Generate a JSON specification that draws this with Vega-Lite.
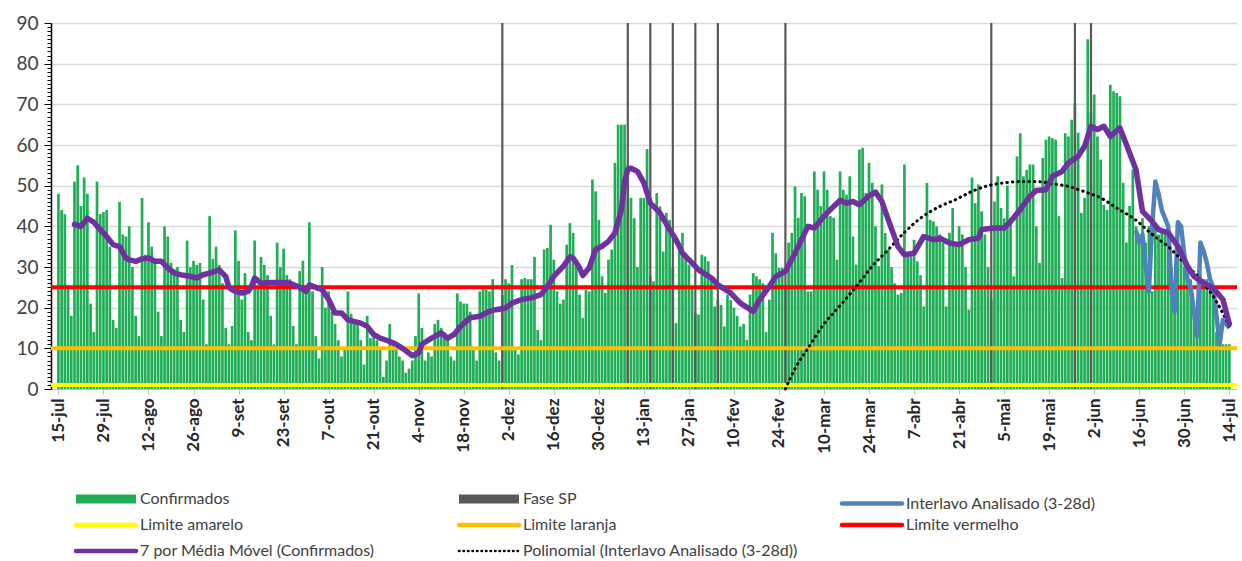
{
"$schema": "https://vega.github.io/schema/vega-lite/v6.json",
"autosize": {"type": "none"},
"width": 1186,
"height": 366,
"padding": {"left": 51, "top": 23, "right": 5, "bottom": 172},
"background": "white",
"config": {"view": {"stroke": null}, "font": "Lato"},
"datasets": {
"conf": [
{"date":"2020-07-15","v":48},{"date":"2020-07-16","v":44},{"date":"2020-07-17","v":43},{"date":"2020-07-18","v":25},{"date":"2020-07-19","v":18},{"date":"2020-07-20","v":51},{"date":"2020-07-21","v":55},{"date":"2020-07-22","v":45},{"date":"2020-07-23","v":52},{"date":"2020-07-24","v":48},{"date":"2020-07-25","v":21},{"date":"2020-07-26","v":14},{"date":"2020-07-27","v":51},{"date":"2020-07-28","v":43},{"date":"2020-07-29","v":43.5},{"date":"2020-07-30","v":44},{"date":"2020-07-31","v":35},
{"date":"2020-08-01","v":17},{"date":"2020-08-02","v":15},{"date":"2020-08-03","v":46},{"date":"2020-08-04","v":38},{"date":"2020-08-05","v":37.5},{"date":"2020-08-06","v":40},{"date":"2020-08-07","v":30},{"date":"2020-08-08","v":18},{"date":"2020-08-09","v":13},{"date":"2020-08-10","v":47},{"date":"2020-08-11","v":33},{"date":"2020-08-12","v":41},{"date":"2020-08-13","v":35},{"date":"2020-08-14","v":31},{"date":"2020-08-15","v":19},{"date":"2020-08-16","v":13},{"date":"2020-08-17","v":40},{"date":"2020-08-18","v":37.5},{"date":"2020-08-19","v":31},{"date":"2020-08-20","v":29.5},{"date":"2020-08-21","v":30},{"date":"2020-08-22","v":17},{"date":"2020-08-23","v":14},{"date":"2020-08-24","v":36.5},{"date":"2020-08-25","v":30},{"date":"2020-08-26","v":31.5},{"date":"2020-08-27","v":30.5},{"date":"2020-08-28","v":31},{"date":"2020-08-29","v":22},{"date":"2020-08-30","v":11},{"date":"2020-08-31","v":42.5},
{"date":"2020-09-01","v":32},{"date":"2020-09-02","v":35},{"date":"2020-09-03","v":30.5},{"date":"2020-09-04","v":26},{"date":"2020-09-05","v":15},{"date":"2020-09-06","v":11},{"date":"2020-09-07","v":15.5},{"date":"2020-09-08","v":39},{"date":"2020-09-09","v":31.5},{"date":"2020-09-10","v":22},{"date":"2020-09-11","v":28.5},{"date":"2020-09-12","v":14},{"date":"2020-09-13","v":12},{"date":"2020-09-14","v":36.5},{"date":"2020-09-15","v":25},{"date":"2020-09-16","v":32.5},{"date":"2020-09-17","v":30.5},{"date":"2020-09-18","v":28},{"date":"2020-09-19","v":18},{"date":"2020-09-20","v":11},{"date":"2020-09-21","v":36},{"date":"2020-09-22","v":30},{"date":"2020-09-23","v":34.5},{"date":"2020-09-24","v":28},{"date":"2020-09-25","v":27},{"date":"2020-09-26","v":15.5},{"date":"2020-09-27","v":11},{"date":"2020-09-28","v":29},{"date":"2020-09-29","v":31.5},{"date":"2020-09-30","v":24},
{"date":"2020-10-01","v":41},{"date":"2020-10-02","v":24},{"date":"2020-10-03","v":13},{"date":"2020-10-04","v":7.5},{"date":"2020-10-05","v":30},{"date":"2020-10-06","v":20},{"date":"2020-10-07","v":24},{"date":"2020-10-08","v":19},{"date":"2020-10-09","v":16},{"date":"2020-10-10","v":12},{"date":"2020-10-11","v":8},{"date":"2020-10-12","v":10},{"date":"2020-10-13","v":24},{"date":"2020-10-14","v":18.5},{"date":"2020-10-15","v":17},{"date":"2020-10-16","v":16},{"date":"2020-10-17","v":12},{"date":"2020-10-18","v":6},{"date":"2020-10-19","v":18},{"date":"2020-10-20","v":12.5},{"date":"2020-10-21","v":13},{"date":"2020-10-22","v":12},{"date":"2020-10-23","v":10},{"date":"2020-10-24","v":3},{"date":"2020-10-25","v":7},{"date":"2020-10-26","v":16},{"date":"2020-10-27","v":12},{"date":"2020-10-28","v":10},{"date":"2020-10-29","v":8},{"date":"2020-10-30","v":7},{"date":"2020-10-31","v":4},
{"date":"2020-11-01","v":5},{"date":"2020-11-02","v":7},{"date":"2020-11-03","v":13},{"date":"2020-11-04","v":23.5},{"date":"2020-11-05","v":15},{"date":"2020-11-06","v":7},{"date":"2020-11-07","v":9},{"date":"2020-11-08","v":8},{"date":"2020-11-09","v":16},{"date":"2020-11-10","v":17},{"date":"2020-11-11","v":15},{"date":"2020-11-12","v":14},{"date":"2020-11-13","v":12.5},{"date":"2020-11-14","v":8},{"date":"2020-11-15","v":7},{"date":"2020-11-16","v":23.5},{"date":"2020-11-17","v":21.5},{"date":"2020-11-18","v":21},{"date":"2020-11-19","v":21},{"date":"2020-11-20","v":19},{"date":"2020-11-21","v":10},{"date":"2020-11-22","v":7},{"date":"2020-11-23","v":24},{"date":"2020-11-24","v":25},{"date":"2020-11-25","v":24.5},{"date":"2020-11-26","v":24},{"date":"2020-11-27","v":27},{"date":"2020-11-28","v":9},{"date":"2020-11-29","v":7},{"date":"2020-11-30","v":23},
{"date":"2020-12-01","v":27},{"date":"2020-12-02","v":26},{"date":"2020-12-03","v":30.5},{"date":"2020-12-04","v":10},{"date":"2020-12-05","v":8.5},{"date":"2020-12-06","v":27},{"date":"2020-12-07","v":27.3},{"date":"2020-12-08","v":27},{"date":"2020-12-09","v":27},{"date":"2020-12-10","v":32.5},{"date":"2020-12-11","v":14.5},{"date":"2020-12-12","v":12},{"date":"2020-12-13","v":34.3},{"date":"2020-12-14","v":34.7},{"date":"2020-12-15","v":40.4},{"date":"2020-12-16","v":31.8},{"date":"2020-12-17","v":24},{"date":"2020-12-18","v":21},{"date":"2020-12-19","v":22},{"date":"2020-12-20","v":35.5},{"date":"2020-12-21","v":40.8},{"date":"2020-12-22","v":38.4},{"date":"2020-12-23","v":31.8},{"date":"2020-12-24","v":23.2},{"date":"2020-12-25","v":17.5},{"date":"2020-12-26","v":24.4},{"date":"2020-12-27","v":24},{"date":"2020-12-28","v":51.5},{"date":"2020-12-29","v":48.6},{"date":"2020-12-30","v":41.6},{"date":"2020-12-31","v":27.7},
{"date":"2021-01-01","v":23.6},{"date":"2021-01-02","v":31.8},{"date":"2021-01-03","v":34.3},{"date":"2021-01-04","v":55.6},{"date":"2021-01-05","v":65},{"date":"2021-01-06","v":65},{"date":"2021-01-07","v":65},{"date":"2021-01-08","v":55},{"date":"2021-01-09","v":47},{"date":"2021-01-10","v":42},{"date":"2021-01-11","v":30},{"date":"2021-01-12","v":47},{"date":"2021-01-13","v":47},{"date":"2021-01-14","v":59},{"date":"2021-01-15","v":27.7},{"date":"2021-01-16","v":26.5},{"date":"2021-01-17","v":48.2},{"date":"2021-01-18","v":44.9},{"date":"2021-01-19","v":33.8},{"date":"2021-01-20","v":43.3},{"date":"2021-01-21","v":41.6},{"date":"2021-01-22","v":29.8},{"date":"2021-01-23","v":16.2},{"date":"2021-01-24","v":34.3},{"date":"2021-01-25","v":38.4},{"date":"2021-01-26","v":33.4},{"date":"2021-01-27","v":30.6},{"date":"2021-01-28","v":25},{"date":"2021-01-29","v":18.7},{"date":"2021-01-30","v":18.3},{"date":"2021-01-31","v":33},
{"date":"2021-02-01","v":32.6},{"date":"2021-02-02","v":31.4},{"date":"2021-02-03","v":27.7},{"date":"2021-02-04","v":20.3},{"date":"2021-02-05","v":22},{"date":"2021-02-06","v":20.7},{"date":"2021-02-07","v":15.4},{"date":"2021-02-08","v":23.2},{"date":"2021-02-09","v":21.9},{"date":"2021-02-10","v":20},{"date":"2021-02-11","v":18},{"date":"2021-02-12","v":15.4},{"date":"2021-02-13","v":16},{"date":"2021-02-14","v":12.1},{"date":"2021-02-15","v":23.2},{"date":"2021-02-16","v":28.5},{"date":"2021-02-17","v":27.7},{"date":"2021-02-18","v":27},{"date":"2021-02-19","v":26},{"date":"2021-02-20","v":14},{"date":"2021-02-21","v":22},{"date":"2021-02-22","v":38.4},{"date":"2021-02-23","v":33.4},{"date":"2021-02-24","v":29.8},{"date":"2021-02-25","v":29.8},{"date":"2021-02-26","v":25},{"date":"2021-02-27","v":36},{"date":"2021-02-28","v":38.4},
{"date":"2021-03-01","v":49.8},{"date":"2021-03-02","v":42.1},{"date":"2021-03-03","v":48.2},{"date":"2021-03-04","v":47.4},{"date":"2021-03-05","v":24},{"date":"2021-03-06","v":24},{"date":"2021-03-07","v":53.5},{"date":"2021-03-08","v":49},{"date":"2021-03-09","v":45},{"date":"2021-03-10","v":53.5},{"date":"2021-03-11","v":49},{"date":"2021-03-12","v":42.5},{"date":"2021-03-13","v":42.1},{"date":"2021-03-14","v":31.8},{"date":"2021-03-15","v":53.5},{"date":"2021-03-16","v":49},{"date":"2021-03-17","v":47.8},{"date":"2021-03-18","v":52.3},{"date":"2021-03-19","v":37.5},{"date":"2021-03-20","v":30.6},{"date":"2021-03-21","v":58.9},{"date":"2021-03-22","v":59.3},{"date":"2021-03-23","v":48.2},{"date":"2021-03-24","v":55.6},{"date":"2021-03-25","v":50.7},{"date":"2021-03-26","v":40},{"date":"2021-03-27","v":30.2},{"date":"2021-03-28","v":50.3},{"date":"2021-03-29","v":38.4},{"date":"2021-03-30","v":34.3},{"date":"2021-03-31","v":30},
{"date":"2021-04-01","v":26},{"date":"2021-04-02","v":23.2},{"date":"2021-04-03","v":23.6},{"date":"2021-04-04","v":55.2},{"date":"2021-04-05","v":33.4},{"date":"2021-04-06","v":32.6},{"date":"2021-04-07","v":36.7},{"date":"2021-04-08","v":31.4},{"date":"2021-04-09","v":28},{"date":"2021-04-10","v":20.3},{"date":"2021-04-11","v":50.7},{"date":"2021-04-12","v":41.6},{"date":"2021-04-13","v":41.2},{"date":"2021-04-14","v":40},{"date":"2021-04-15","v":38},{"date":"2021-04-16","v":36},{"date":"2021-04-17","v":20.3},{"date":"2021-04-18","v":38.4},{"date":"2021-04-19","v":44.5},{"date":"2021-04-20","v":35.1},{"date":"2021-04-21","v":40},{"date":"2021-04-22","v":38},{"date":"2021-04-23","v":30},{"date":"2021-04-24","v":19.5},{"date":"2021-04-25","v":52},{"date":"2021-04-26","v":45.7},{"date":"2021-04-27","v":50.3},{"date":"2021-04-28","v":43.7},{"date":"2021-04-29","v":38},{"date":"2021-04-30","v":30},
{"date":"2021-05-01","v":22},{"date":"2021-05-02","v":46.1},{"date":"2021-05-03","v":52.3},{"date":"2021-05-04","v":44.5},{"date":"2021-05-05","v":42},{"date":"2021-05-06","v":50},{"date":"2021-05-07","v":42.1},{"date":"2021-05-08","v":27.7},{"date":"2021-05-09","v":57.2},{"date":"2021-05-10","v":62.9},{"date":"2021-05-11","v":52.3},{"date":"2021-05-12","v":53.9},{"date":"2021-05-13","v":55.2},{"date":"2021-05-14","v":55.2},{"date":"2021-05-15","v":40},{"date":"2021-05-16","v":31},{"date":"2021-05-17","v":56.8},{"date":"2021-05-18","v":61.3},{"date":"2021-05-19","v":62.1},{"date":"2021-05-20","v":61.7},{"date":"2021-05-21","v":61.3},{"date":"2021-05-22","v":42.5},{"date":"2021-05-23","v":27.3},{"date":"2021-05-24","v":62.9},{"date":"2021-05-25","v":62.1},{"date":"2021-05-26","v":66.2},{"date":"2021-05-27","v":70.3},{"date":"2021-05-28","v":63},{"date":"2021-05-29","v":43.3},{"date":"2021-05-30","v":47},{"date":"2021-05-31","v":86},
{"date":"2021-06-01","v":68},{"date":"2021-06-02","v":72.4},{"date":"2021-06-03","v":62.1},{"date":"2021-06-04","v":56.4},{"date":"2021-06-05","v":45.3},{"date":"2021-06-06","v":44},{"date":"2021-06-07","v":74.8},{"date":"2021-06-08","v":73.2},{"date":"2021-06-09","v":72.8},{"date":"2021-06-10","v":72},{"date":"2021-06-11","v":50.7},{"date":"2021-06-12","v":36},{"date":"2021-06-13","v":45},{"date":"2021-06-14","v":54},{"date":"2021-06-15","v":40},{"date":"2021-06-16","v":38},{"date":"2021-06-17","v":42},{"date":"2021-06-18","v":36},{"date":"2021-06-19","v":40},{"date":"2021-06-20","v":24},{"date":"2021-06-21","v":40},{"date":"2021-06-22","v":38},{"date":"2021-06-23","v":39},{"date":"2021-06-24","v":38},{"date":"2021-06-25","v":40},{"date":"2021-06-26","v":30},{"date":"2021-06-27","v":22},{"date":"2021-06-28","v":34},{"date":"2021-06-29","v":33},{"date":"2021-06-30","v":30},
{"date":"2021-07-01","v":29},{"date":"2021-07-02","v":27},{"date":"2021-07-03","v":20},{"date":"2021-07-04","v":15},{"date":"2021-07-05","v":28},{"date":"2021-07-06","v":27},{"date":"2021-07-07","v":27},{"date":"2021-07-08","v":26},{"date":"2021-07-09","v":25},{"date":"2021-07-10","v":14},{"date":"2021-07-11","v":11},{"date":"2021-07-12","v":11},{"date":"2021-07-13","v":11},{"date":"2021-07-14","v":11}
],
"ma": [
{"date":"2020-07-20","v":40.5},{"date":"2020-07-22","v":40},{"date":"2020-07-24","v":42},{"date":"2020-07-26","v":41},{"date":"2020-07-28","v":39.2},{"date":"2020-07-30","v":37.5},{"date":"2020-08-01","v":35.5},{"date":"2020-08-03","v":35},{"date":"2020-08-05","v":32.2},{"date":"2020-08-06","v":31.8},{"date":"2020-08-08","v":31.4},{"date":"2020-08-10","v":32},{"date":"2020-08-12","v":32.2},{"date":"2020-08-14","v":31.4},{"date":"2020-08-16","v":31.4},{"date":"2020-08-18","v":29.8},{"date":"2020-08-20","v":28.5},{"date":"2020-08-22","v":28.1},{"date":"2020-08-25","v":27.7},{"date":"2020-08-27","v":27.3},{"date":"2020-08-29","v":28.1},{"date":"2020-08-31","v":28.5},{"date":"2020-09-03","v":29.3},{"date":"2020-09-05","v":27.7},{"date":"2020-09-06","v":25},{"date":"2020-09-07","v":24.4},{"date":"2020-09-08","v":24},{"date":"2020-09-10","v":23.6},{"date":"2020-09-12","v":24},{"date":"2020-09-13","v":25.2},{"date":"2020-09-14","v":27.3},{"date":"2020-09-16","v":26},{"date":"2020-09-19","v":26.2},{"date":"2020-09-23","v":26.2},{"date":"2020-09-25","v":26},{"date":"2020-09-28","v":25},{"date":"2020-09-30","v":24},{"date":"2020-10-01","v":25.6},{"date":"2020-10-03","v":25},{"date":"2020-10-05","v":24.4},{"date":"2020-10-07","v":22},{"date":"2020-10-09","v":18.7},{"date":"2020-10-11","v":18.7},{"date":"2020-10-13","v":17},{"date":"2020-10-17","v":16.2},{"date":"2020-10-19","v":15.4},{"date":"2020-10-21","v":13.4},{"date":"2020-10-23","v":12.5},{"date":"2020-10-26","v":11.7},{"date":"2020-10-28","v":11},{"date":"2020-10-30","v":10},{"date":"2020-11-01","v":8.8},{"date":"2020-11-02","v":8.2},{"date":"2020-11-03","v":8.5},{"date":"2020-11-04","v":8.9},{"date":"2020-11-05","v":11},{"date":"2020-11-08","v":12.5},{"date":"2020-11-11","v":13.8},{"date":"2020-11-13","v":12.5},{"date":"2020-11-15","v":13.4},{"date":"2020-11-17","v":15.4},{"date":"2020-11-20","v":17.5},{"date":"2020-11-23","v":17.9},{"date":"2020-11-26","v":19.1},{"date":"2020-11-28","v":19.5},{"date":"2020-12-01","v":19.9},{"date":"2020-12-03","v":21.1},{"date":"2020-12-06","v":22},{"date":"2020-12-09","v":22.4},{"date":"2020-12-12","v":23.2},{"date":"2020-12-14","v":25.2},{"date":"2020-12-16","v":27.7},{"date":"2020-12-19","v":30.2},{"date":"2020-12-21","v":32.5},{"date":"2020-12-22","v":32.2},{"date":"2020-12-24","v":29.8},{"date":"2020-12-25","v":27.9},{"date":"2020-12-27","v":29.8},{"date":"2020-12-29","v":34.3},{"date":"2020-12-31","v":35.1},{"date":"2021-01-02","v":36.3},{"date":"2021-01-04","v":38.4},{"date":"2021-01-06","v":44},{"date":"2021-01-07","v":51},{"date":"2021-01-08","v":54},{"date":"2021-01-09","v":54.3},{"date":"2021-01-11","v":53.5},{"date":"2021-01-13","v":50.7},{"date":"2021-01-15","v":45.7},{"date":"2021-01-18","v":43.3},{"date":"2021-01-21","v":39.2},{"date":"2021-01-23","v":36.7},{"date":"2021-01-25","v":33.4},{"date":"2021-01-28","v":31},{"date":"2021-01-30","v":29.3},{"date":"2021-02-03","v":27.3},{"date":"2021-02-05","v":25.6},{"date":"2021-02-09","v":23.6},{"date":"2021-02-12","v":21.1},{"date":"2021-02-16","v":19.1},{"date":"2021-02-18","v":22},{"date":"2021-02-21","v":25.2},{"date":"2021-02-23","v":27.7},{"date":"2021-02-26","v":28.9},{"date":"2021-03-01","v":33.4},{"date":"2021-03-05","v":40},{"date":"2021-03-07","v":39.6},{"date":"2021-03-10","v":42.5},{"date":"2021-03-13","v":44.9},{"date":"2021-03-15","v":46.4},{"date":"2021-03-17","v":45.7},{"date":"2021-03-19","v":46.1},{"date":"2021-03-21","v":45.3},{"date":"2021-03-24","v":47.5},{"date":"2021-03-26","v":48.4},{"date":"2021-03-28","v":46.1},{"date":"2021-03-30","v":41.6},{"date":"2021-04-02","v":35},{"date":"2021-04-04","v":33},{"date":"2021-04-07","v":33.4},{"date":"2021-04-10","v":37.5},{"date":"2021-04-13","v":36.7},{"date":"2021-04-15","v":37.1},{"date":"2021-04-18","v":35.9},{"date":"2021-04-21","v":35.5},{"date":"2021-04-24","v":36.7},{"date":"2021-04-27","v":37.1},{"date":"2021-04-28","v":39.2},{"date":"2021-05-02","v":39.6},{"date":"2021-05-05","v":39.6},{"date":"2021-05-07","v":41.2},{"date":"2021-05-10","v":44.1},{"date":"2021-05-13","v":47.4},{"date":"2021-05-15","v":48.8},{"date":"2021-05-18","v":49},{"date":"2021-05-20","v":52.3},{"date":"2021-05-23","v":53.5},{"date":"2021-05-25","v":55.6},{"date":"2021-05-28","v":57.2},{"date":"2021-05-30","v":59.7},{"date":"2021-06-01","v":64.6},{"date":"2021-06-03","v":63.8},{"date":"2021-06-05","v":64.6},{"date":"2021-06-07","v":62.1},{"date":"2021-06-10","v":64.2},{"date":"2021-06-12","v":60.1},{"date":"2021-06-15","v":53.9},{"date":"2021-06-17","v":43.7},{"date":"2021-06-20","v":41.2},{"date":"2021-06-22","v":39.2},{"date":"2021-06-25","v":38.4},{"date":"2021-06-28","v":35.1},{"date":"2021-07-01","v":30.2},{"date":"2021-07-03","v":27.7},{"date":"2021-07-06","v":26.1},{"date":"2021-07-09","v":24.8},{"date":"2021-07-12","v":22},{"date":"2021-07-14","v":16}
],
"interval": [
{"date":"2021-06-15","v":39},{"date":"2021-06-16","v":36},{"date":"2021-06-17","v":38},{"date":"2021-06-18","v":30},{"date":"2021-06-19","v":24},{"date":"2021-06-20","v":40},{"date":"2021-06-21","v":51},{"date":"2021-06-22","v":48},{"date":"2021-06-23","v":44},{"date":"2021-06-24","v":42},{"date":"2021-06-25","v":40},{"date":"2021-06-26","v":25},{"date":"2021-06-27","v":19},{"date":"2021-06-28","v":41},{"date":"2021-06-29","v":40},{"date":"2021-06-30","v":33},{"date":"2021-07-01","v":27},{"date":"2021-07-02","v":25},{"date":"2021-07-03","v":19},{"date":"2021-07-04","v":13},{"date":"2021-07-05","v":36},{"date":"2021-07-06","v":34},{"date":"2021-07-07","v":31},{"date":"2021-07-08","v":27},{"date":"2021-07-09","v":25},{"date":"2021-07-10","v":18},{"date":"2021-07-11","v":11},{"date":"2021-07-12","v":17},{"date":"2021-07-13","v":16},{"date":"2021-07-14","v":15}
],
"poly": [
{"date":"2021-02-26","v":0},{"date":"2021-03-01","v":5},{"date":"2021-03-05","v":10},{"date":"2021-03-10","v":16},{"date":"2021-03-15","v":20.5},{"date":"2021-03-20","v":25.2},{"date":"2021-03-25","v":30.2},{"date":"2021-03-30","v":34.3},{"date":"2021-04-04","v":38.5},{"date":"2021-04-09","v":42},{"date":"2021-04-15","v":44.9},{"date":"2021-04-20","v":46.6},{"date":"2021-04-25","v":48.6},{"date":"2021-04-30","v":50},{"date":"2021-05-05","v":50.7},{"date":"2021-05-10","v":51},{"date":"2021-05-15","v":51},{"date":"2021-05-20","v":50.5},{"date":"2021-05-25","v":49.8},{"date":"2021-05-30","v":48.5},{"date":"2021-06-04","v":47},{"date":"2021-06-09","v":44.5},{"date":"2021-06-15","v":41.5},{"date":"2021-06-20","v":38},{"date":"2021-06-25","v":35},{"date":"2021-06-30","v":31},{"date":"2021-07-05","v":27},{"date":"2021-07-10","v":21.5},{"date":"2021-07-14","v":15.5}
],
"fase": [
{"date":"2020-11-30"},{"date":"2021-01-08"},{"date":"2021-01-15"},{"date":"2021-01-22"},{"date":"2021-01-29"},{"date":"2021-02-05"},{"date":"2021-02-26"},{"date":"2021-05-01"},{"date":"2021-05-27"},{"date":"2021-06-01"}
],
"limits": [
{"s":"Limite amarelo","y":1},{"s":"Limite laranja","y":10},{"s":"Limite vermelho","y":25}
]
},
"layer": [
{
"data": {"name": "conf"},
"mark": {"type": "bar", "size": 2.7, "color": "#1fae55"},
"encoding": {
"x": {"field": "date", "type": "temporal",
"scale": {"type": "utc", "domain": [{"year": 2020, "month": 7, "date": 14, "hours": 6, "utc": true}, {"year": 2021, "month": 7, "date": 14, "hours": 20, "utc": true}]},
"axis": {"title": null, "values": [
{"year":2020,"month":7,"date":15,"utc":true},{"year":2020,"month":7,"date":29,"utc":true},{"year":2020,"month":8,"date":12,"utc":true},{"year":2020,"month":8,"date":26,"utc":true},{"year":2020,"month":9,"date":9,"utc":true},{"year":2020,"month":9,"date":23,"utc":true},{"year":2020,"month":10,"date":7,"utc":true},{"year":2020,"month":10,"date":21,"utc":true},{"year":2020,"month":11,"date":4,"utc":true},{"year":2020,"month":11,"date":18,"utc":true},{"year":2020,"month":12,"date":2,"utc":true},{"year":2020,"month":12,"date":16,"utc":true},{"year":2020,"month":12,"date":30,"utc":true},{"year":2021,"month":1,"date":13,"utc":true},{"year":2021,"month":1,"date":27,"utc":true},{"year":2021,"month":2,"date":10,"utc":true},{"year":2021,"month":2,"date":24,"utc":true},{"year":2021,"month":3,"date":10,"utc":true},{"year":2021,"month":3,"date":24,"utc":true},{"year":2021,"month":4,"date":7,"utc":true},{"year":2021,"month":4,"date":21,"utc":true},{"year":2021,"month":5,"date":5,"utc":true},{"year":2021,"month":5,"date":19,"utc":true},{"year":2021,"month":6,"date":2,"utc":true},{"year":2021,"month":6,"date":16,"utc":true},{"year":2021,"month":6,"date":30,"utc":true},{"year":2021,"month":7,"date":14,"utc":true}],
"labelExpr": "utcdate(datum.value) + '-' + ['jan','fev','mar','abr','mai','jun','jul','ago','set','out','nov','dez'][utcmonth(datum.value)]",
"labelAngle": 270, "labelFontSize": 17, "labelFontWeight": "bold", "labelColor": "#262626", "labelPadding": 4, "labelOverlap": false,
"tickSize": 5, "tickColor": "#bfbfbf", "domainColor": "#bfbfbf", "grid": false}},
"y": {"field": "v", "type": "quantitative",
"scale": {"domain": [0, 90], "nice": false, "zero": true},
"axis": {"title": null, "tickCount": 90, "labelOverlap": false,
"labelExpr": "datum.value % 10 === 0 ? datum.label : ''",
"labelFontSize": 19, "labelColor": "#404040", "labelPadding": 6,
"domainColor": "#000000", "domainWidth": 1.5,
"tickColor": "#000000", "tickWidth": 1,
"tickSize": {"condition": {"test": "datum.value % 10 === 0", "value": 7}, "value": 4},
"grid": true, "gridColor": "#d9d9d9", "gridWidth": 1.5,
"gridOpacity": {"condition": {"test": "datum.value % 10 === 0 && datum.value > 0", "value": 1}, "value": 0}}},
"color": {"datum": "Confirmados", "type": "nominal", "title": null,
"scale": {"domain": ["Confirmados", "Fase SP", "Interlavo Analisado (3-28d)", "Limite amarelo", "Limite laranja", "Limite vermelho", "7 por Média Móvel (Confirmados)", "Polinomial (Interlavo Analisado (3-28d))"],
"range": ["#1fae55", "#595959", "#4f81bd", "#ffff00", "#ffc000", "#ff0000", "#7030a0", "#000000"]},
"legend": {"orient": "none", "legendX": 47, "legendY": 468, "direction": "horizontal", "columns": 3, "gridAlign": "all", "columnPadding": 26, "rowPadding": -6, "padding": 0,
"symbolType": "stroke", "symbolSize": 3600, "labelFontSize": 16, "labelColor": "#404040", "labelLimit": 400, "labelOffset": 26,
"encode": {"symbols": {"update": {
"stroke": {"scale": "color", "field": "value"},
"fill": {"value": "transparent"},
"strokeWidth": {"signal": "(datum.value === 'Confirmados' || datum.value === 'Fase SP') ? 9 : (datum.value === 'Polinomial (Interlavo Analisado (3-28d))' ? 2.5 : 4.5)"},
"strokeDash": {"signal": "datum.value === 'Polinomial (Interlavo Analisado (3-28d))' ? [0.5, 4] : null"},
"strokeCap": {"signal": "(datum.value === 'Confirmados' || datum.value === 'Fase SP') ? 'butt' : 'round'"},
"opacity": {"value": 1}}}}}}
}
},
{
"data": {"name": "fase"},
"mark": {"type": "rule", "strokeWidth": 2.2},
"encoding": {
"x": {"field": "date", "type": "temporal"},
"color": {"datum": "Fase SP", "type": "nominal", "title": null}
}
},
{
"data": {"name": "limits"},
"mark": {"type": "rule", "strokeWidth": 4},
"encoding": {
"y": {"field": "y", "type": "quantitative"},
"color": {"field": "s", "type": "nominal", "title": null}
}
},
{
"data": {"name": "interval"},
"mark": {"type": "line", "strokeWidth": 4.5, "strokeJoin": "round"},
"encoding": {
"x": {"field": "date", "type": "temporal"},
"y": {"field": "v", "type": "quantitative"},
"color": {"datum": "Interlavo Analisado (3-28d)", "type": "nominal", "title": null}
}
},
{
"data": {"name": "poly"},
"mark": {"type": "line", "strokeWidth": 3, "strokeDash": [0.5, 5], "strokeCap": "round", "interpolate": "monotone"},
"encoding": {
"x": {"field": "date", "type": "temporal"},
"y": {"field": "v", "type": "quantitative"},
"color": {"datum": "Polinomial (Interlavo Analisado (3-28d))", "type": "nominal", "title": null}
}
},
{
"data": {"name": "ma"},
"mark": {"type": "line", "strokeWidth": 5.5, "strokeJoin": "round", "strokeCap": "round"},
"encoding": {
"x": {"field": "date", "type": "temporal"},
"y": {"field": "v", "type": "quantitative"},
"color": {"datum": "7 por Média Móvel (Confirmados)", "type": "nominal", "title": null}
}
}
]
}
